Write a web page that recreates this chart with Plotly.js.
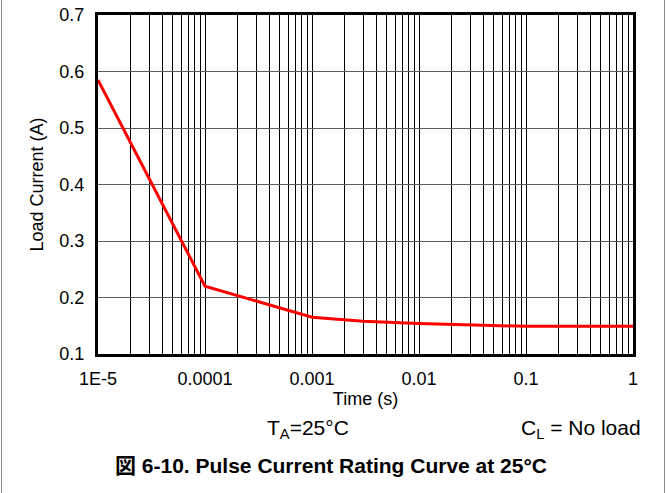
<!DOCTYPE html>
<html>
<head>
<meta charset="utf-8">
<script src="https://cdn.plot.ly/plotly-3.0.1.min.js"></script>
<style>
  html, body { margin: 0; padding: 0; background: #fff; }
  #wrap { position: relative; width: 666px; height: 493px; }
  #chart { width: 666px; height: 493px; }
  .vline { position: absolute; top: 0; width: 1px; height: 493px; background: #8a8a8a; }
</style>
</head>
<body>
<div id="wrap">
  <div id="chart"></div>
  <div class="vline" style="left:1px"></div>
  <div class="vline" style="left:664px"></div>
</div>
<script>
// Data
const timeS = [1e-5, 1e-4, 0.001, 0.003, 0.01, 0.03, 0.1, 1];
const loadCurrentA = [0.585, 0.22, 0.165, 0.158, 0.154, 0.151, 0.149, 0.149];

// Tick positions / labels
const decades = [-5, -4, -3, -2, -1];
const decadeLabels = ['1E-5', '0.0001', '0.001', '0.01', '0.1'];
const lastTickVal = 1;
const lastTickLabel = '1';
const yTickVals = [0.1, 0.2, 0.3, 0.4, 0.5, 0.6, 0.7];

const xTickVals = [];
const xTickText = [];
decades.forEach((d, i) => {
  for (let m = 1; m <= 9; m++) {
    xTickVals.push(m * Math.pow(10, d));
    xTickText.push(m === 1 ? decadeLabels[i] : '');
  }
});
xTickVals.push(lastTickVal);
xTickText.push(lastTickLabel);

const FONT = 'Liberation Sans, Arial, Helvetica, sans-serif';
const L = 98, R = 633, T = 15, B = 354;
const px = x => (x - L) / (R - L);
const py = y => (B - y) / (B - T);

const trace = {
  x: timeS,
  y: loadCurrentA,
  type: 'scatter',
  mode: 'lines',
  line: { color: '#ff0000', width: 3 },
  hoverinfo: 'skip'
};

const layout = {
  width: 666,
  height: 493,
  margin: { l: L, r: 666 - R, t: T, b: 493 - B },
  paper_bgcolor: '#ffffff',
  plot_bgcolor: '#ffffff',
  showlegend: false,
  font: { family: FONT, color: '#000' },
  title: {
    text: '<b>図 6-10. Pulse Current Rating Curve at 25°C</b>',
    font: { family: 'Liberation Sans, Arial, Noto Sans CJK JP, sans-serif', size: 21, color: '#000' },
    xref: 'container', yref: 'container',
    x: 331 / 666, y: 1 - 466 / 493,
    xanchor: 'center', yanchor: 'middle'
  },
  xaxis: {
    type: 'log',
    range: [-5, 0],
    tickmode: 'array',
    tickvals: xTickVals,
    ticktext: xTickText,
    tickangle: 0,
    showgrid: true,
    gridcolor: '#000000',
    gridwidth: 1,
    zeroline: false,
    showline: true,
    linecolor: '#000',
    linewidth: 3,
    mirror: true,
    ticks: '',
    ticklabelstandoff: 6,
    tickfont: { family: FONT, size: 18, color: '#000' },
    title: { text: 'Time (s)', font: { family: FONT, size: 18, color: '#000' }, standoff: 0 },
    automargin: false
  },
  yaxis: {
    range: [0.1, 0.7],
    tickmode: 'array',
    tickvals: yTickVals,
    ticktext: yTickVals.map(v => v.toFixed(1)),
    tickangle: 0,
    showgrid: true,
    gridcolor: '#5a5a5a',
    gridwidth: 1,
    zeroline: false,
    showline: true,
    linecolor: '#000',
    linewidth: 3,
    mirror: true,
    ticks: '',
    ticklabelstandoff: 7,
    tickfont: { family: FONT, size: 18, color: '#000' },
    title: { text: 'Load Current (A)', font: { family: FONT, size: 18, color: '#000' }, standoff: 12 },
    automargin: false
  },
  annotations: [
    {
      text: 'T<sub>A</sub>=25°C',
      xref: 'paper', yref: 'paper',
      x: px(308), y: py(429),
      xanchor: 'center', yanchor: 'middle',
      showarrow: false,
      font: { family: FONT, size: 21, color: '#000' }
    },
    {
      text: 'C<sub>L</sub> = No load',
      xref: 'paper', yref: 'paper',
      x: px(643), y: py(429),
      xanchor: 'right', yanchor: 'middle',
      showarrow: false,
      font: { family: FONT, size: 21, color: '#000' }
    }
  ]
};

Plotly.newPlot('chart', [trace], layout, { displayModeBar: false, staticPlot: true });
</script>
</body>
</html>
